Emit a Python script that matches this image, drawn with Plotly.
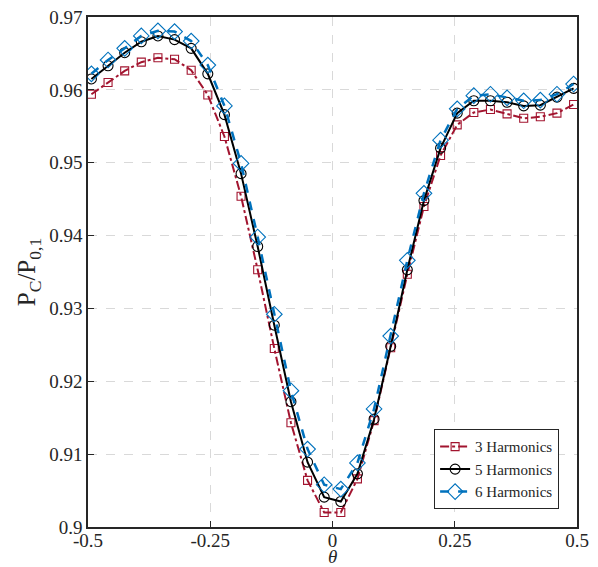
import plotly.graph_objects as go

theta = [-0.493, -0.459, -0.425, -0.391, -0.357, -0.323, -0.289, -0.255, -0.221, -0.187,
         -0.153, -0.119, -0.085, -0.051, -0.017, 0.017, 0.051, 0.085, 0.119, 0.153,
         0.187, 0.221, 0.255, 0.289, 0.323, 0.357, 0.391, 0.425, 0.459, 0.493]

h3 = [0.9594, 0.9610, 0.9626, 0.9638, 0.9644, 0.9642, 0.9627, 0.9593, 0.9536, 0.9454,
      0.9353, 0.9245, 0.9143, 0.9064, 0.9020, 0.9020, 0.9066, 0.9146, 0.9246, 0.9347,
      0.9440, 0.9510, 0.9552, 0.9569, 0.9573, 0.9567, 0.9561, 0.9563, 0.9568, 0.9580]

h5 = [0.9615, 0.9633, 0.9651, 0.9666, 0.9674, 0.9669, 0.9657, 0.9622, 0.9566, 0.9485,
      0.9385, 0.9277, 0.9172, 0.9089, 0.9041, 0.9035, 0.9073, 0.9148, 0.9248, 0.9353,
      0.9448, 0.9520, 0.9568, 0.9585, 0.9585, 0.9583, 0.9578, 0.9579, 0.9590, 0.9602]

h6 = [0.9622, 0.9641, 0.9657, 0.9674, 0.9681, 0.9680, 0.9667, 0.9634, 0.9578, 0.9499,
      0.9398, 0.9292, 0.9187, 0.9107, 0.9058, 0.9052, 0.9088, 0.9162, 0.9262, 0.9366,
      0.9458, 0.9531, 0.9574, 0.9592, 0.9594, 0.9589, 0.9585, 0.9586, 0.9594, 0.9608]

names = ["3 Harmonics", "5 Harmonics", "6 Harmonics"]
xticks = [-0.5, -0.25, 0, 0.25, 0.5]
xticklabels = ["-0.5", "-0.25", "0", "0.25", "0.5"]
yticks = [0.9, 0.91, 0.92, 0.93, 0.94, 0.95, 0.96, 0.97]
yticklabels = ["0.9", "0.91", "0.92", "0.93", "0.94", "0.95", "0.96", "0.97"]

FONT = "Liberation Serif"
fig = go.Figure()
fig.add_trace(go.Scatter(x=theta, y=h3, name=names[0], mode="lines+markers",
                         line=dict(color="#A2142F", width=2, dash="dashdot"),
                         marker=dict(symbol="square-open", size=8, color="#A2142F", line=dict(width=1.1))))
fig.add_trace(go.Scatter(x=theta, y=h5, name=names[1], mode="lines+markers",
                         line=dict(color="#000000", width=2, dash="solid"),
                         marker=dict(symbol="circle-open", size=10, color="#000000", line=dict(width=1.1))))
fig.add_trace(go.Scatter(x=theta, y=h6, name=names[2], mode="lines+markers",
                         line=dict(color="#0072BD", width=2.5, dash="dash"),
                         marker=dict(symbol="diamond-open", size=12, color="#0072BD", line=dict(width=1.1))))

axis_common = dict(showline=True, linecolor="#262626", linewidth=1.5, mirror=True,
                   ticks="inside", ticklen=6, tickcolor="#262626", automargin=False,
                   showgrid=True, gridcolor="#d9d9d9", griddash="dash", gridwidth=1,
                   zeroline=False, tickfont=dict(family=FONT, size=19, color="#262626"))

fig.update_xaxes(range=[-0.5, 0.5], tickvals=xticks, ticktext=xticklabels,
                 ticklabelstandoff=-5, **axis_common)
fig.update_yaxes(range=[0.9, 0.97], tickvals=yticks, ticktext=yticklabels,
                 title=dict(text="P<sub>C</sub>/P<sub>0,1</sub>", font=dict(family=FONT, size=25, color="#262626"), standoff=6),
                 **axis_common)

fig.add_annotation(text="<i>θ</i>", x=0.5, y=-0.058, xref="paper", yref="paper",
                   xanchor="center", yanchor="middle", showarrow=False,
                   font=dict(family=FONT, size=19, color="#262626"))

fig.update_layout(width=598, height=567, plot_bgcolor="white", paper_bgcolor="white",
                  margin=dict(l=88, r=21, t=17, b=40),
                  font=dict(family=FONT, color="#262626"),
                  legend=dict(x=0.963, y=0.035, xanchor="right", yanchor="bottom",
                              bgcolor="white", bordercolor="#262626", borderwidth=1.2,
                              font=dict(family=FONT, size=15, color="#262626"),
                              tracegroupgap=0, itemwidth=30))

fig.write_html("out.html")
